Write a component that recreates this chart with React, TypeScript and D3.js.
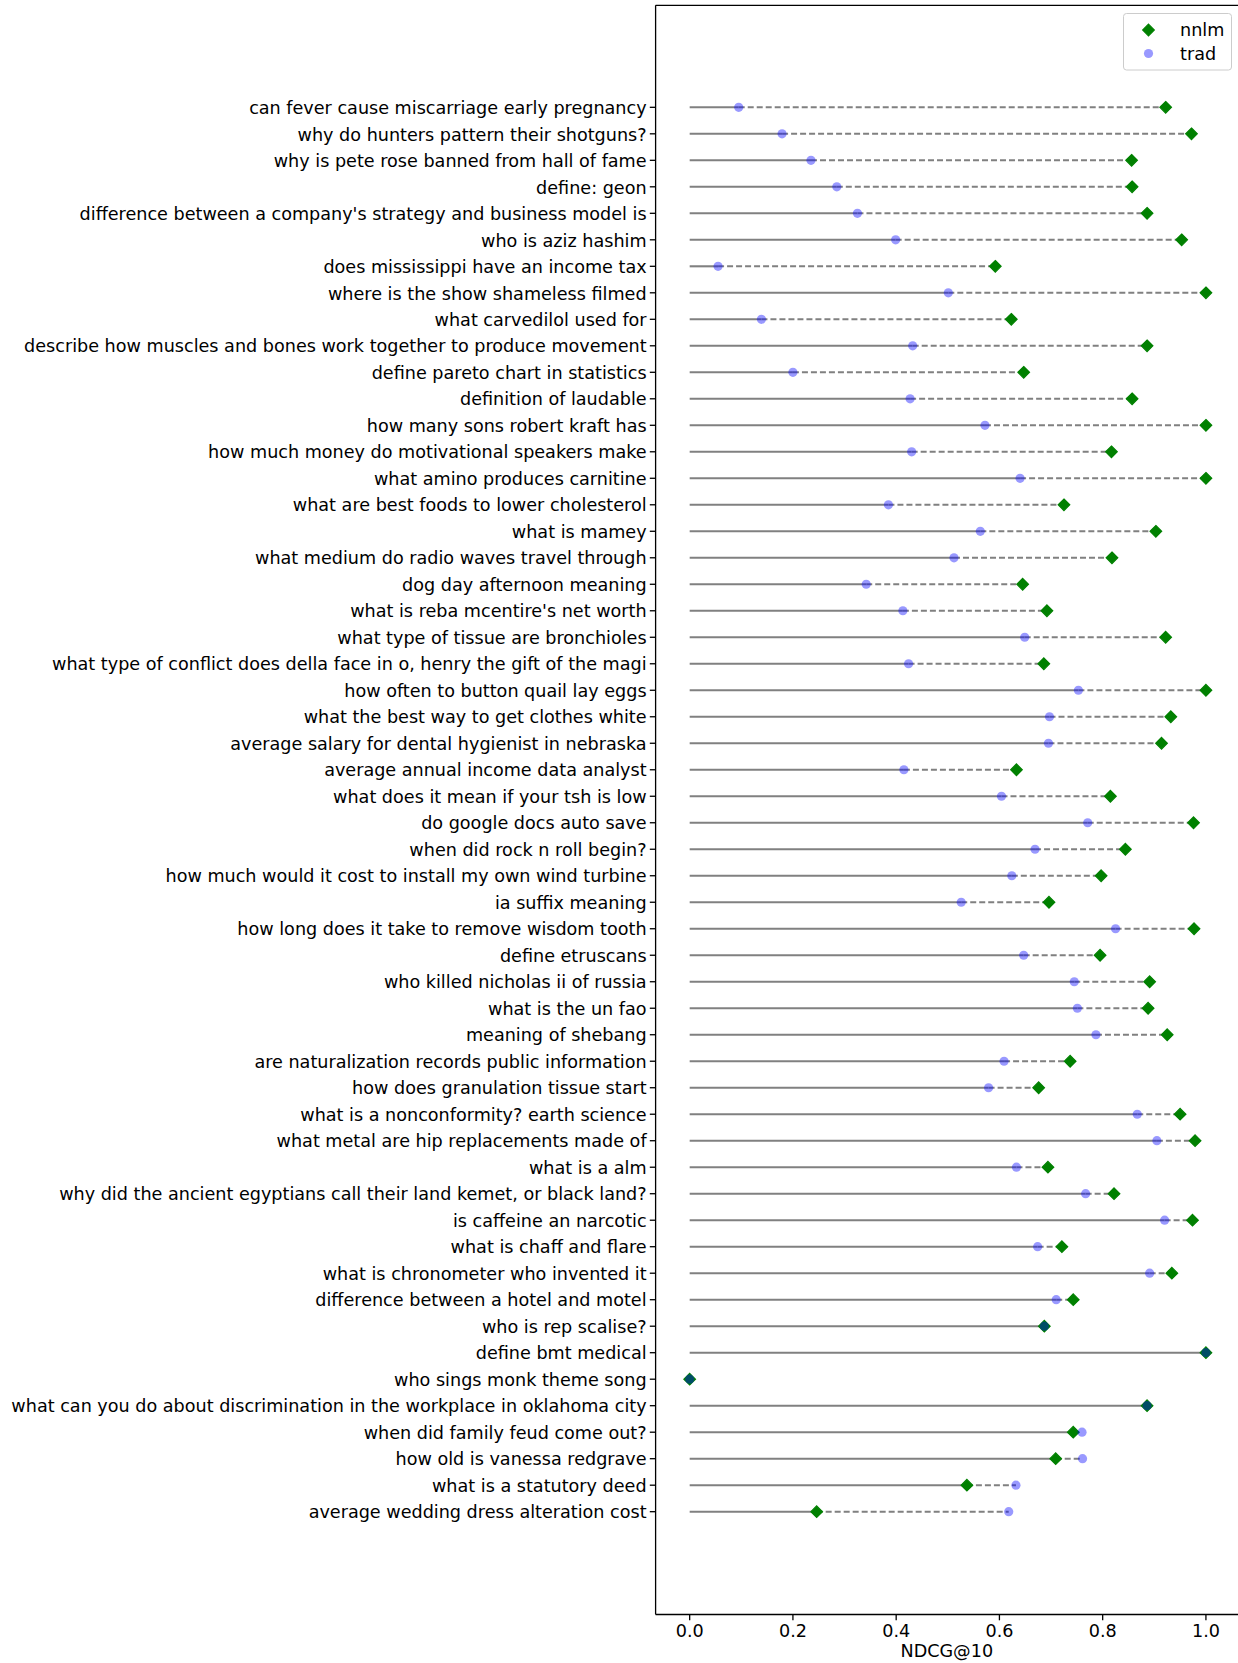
import React from "react";
import * as d3 from "d3";

const queries = [
  "can fever cause miscarriage early pregnancy",
  "why do hunters pattern their shotguns?",
  "why is pete rose banned from hall of fame",
  "define: geon",
  "difference between a company's strategy and business model is",
  "who is aziz hashim",
  "does mississippi have an income tax",
  "where is the show shameless filmed",
  "what carvedilol used for",
  "describe how muscles and bones work together to produce movement",
  "define pareto chart in statistics",
  "definition of laudable",
  "how many sons robert kraft has",
  "how much money do motivational speakers make",
  "what amino produces carnitine",
  "what are best foods to lower cholesterol",
  "what is mamey",
  "what medium do radio waves travel through",
  "dog day afternoon meaning",
  "what is reba mcentire's net worth",
  "what type of tissue are bronchioles",
  "what type of conflict does della face in o, henry the gift of the magi",
  "how often to button quail lay eggs",
  "what the best way to get clothes white",
  "average salary for dental hygienist in nebraska",
  "average annual income data analyst",
  "what does it mean if your tsh is low",
  "do google docs auto save",
  "when did rock n roll begin?",
  "how much would it cost to install my own wind turbine",
  "ia suffix meaning",
  "how long does it take to remove wisdom tooth",
  "define etruscans",
  "who killed nicholas ii of russia",
  "what is the un fao",
  "meaning of shebang",
  "are naturalization records public information",
  "how does granulation tissue start",
  "what is a nonconformity? earth science",
  "what metal are hip replacements made of",
  "what is a alm",
  "why did the ancient egyptians call their land kemet, or black land?",
  "is caffeine an narcotic",
  "what is chaff and flare",
  "what is chronometer who invented it",
  "difference between a hotel and motel",
  "who is rep scalise?",
  "define bmt medical",
  "who sings monk theme song",
  "what can you do about discrimination in the workplace in oklahoma city",
  "when did family feud come out?",
  "how old is vanessa redgrave",
  "what is a statutory deed",
  "average wedding dress alteration cost",
];

const nnlm = [
  0.922, 0.972, 0.856, 0.857, 0.886, 0.953, 0.592, 1.0, 0.623, 0.886,
  0.647, 0.857, 1.0, 0.817, 1.0, 0.725, 0.903, 0.818, 0.645, 0.692,
  0.922, 0.686, 1.0, 0.932, 0.914, 0.633, 0.815, 0.976, 0.844, 0.797,
  0.696, 0.977, 0.795, 0.891, 0.888, 0.925, 0.737, 0.676, 0.95, 0.979,
  0.694, 0.822, 0.974, 0.721, 0.934, 0.743, 0.687, 1.0, 0.0, 0.886,
  0.743, 0.709, 0.537, 0.246,
];

const trad = [
  0.095, 0.179, 0.235, 0.285, 0.325, 0.399, 0.055, 0.501, 0.139, 0.432,
  0.2, 0.427, 0.572, 0.43, 0.64, 0.385, 0.563, 0.512, 0.342, 0.413,
  0.649, 0.424, 0.753, 0.697, 0.695, 0.415, 0.604, 0.771, 0.669, 0.624,
  0.526, 0.825, 0.647, 0.745, 0.751, 0.787, 0.609, 0.579, 0.867, 0.905,
  0.633, 0.767, 0.92, 0.674, 0.891, 0.71, 0.687, 1.0, 0.0, 0.886,
  0.76, 0.761, 0.632, 0.618,
];

const xTicks = [0, 0.2, 0.4, 0.6, 0.8, 1.0];

const W = 1238;
const H = 1663;
const font = "DejaVu Sans, sans-serif";
const fs = 17.6;
const green = "#008000";
const blueAlpha = "rgba(0,0,255,0.4)";
const lineGray = "#808080";

function Diamond({ cx, cy, r }: { cx: number; cy: number; r: number }) {
  const p = `M${cx},${cy - r}L${cx + r},${cy}L${cx},${cy + r}L${cx - r},${cy}Z`;
  return <path d={p} fill={green} stroke={green} strokeWidth={1.2} />;
}

export default function App() {
  const x = d3.scaleLinear().domain([-0.066, 1.066]).range([655.6, 1240]);
  const y = d3.scaleLinear().domain([-3.85, 56.88]).range([5.3, 1614.5]);
  const left = x.range()[0];
  const top = y.range()[0];
  const bottom = y.range()[1];

  return (
    <svg
      width={W}
      height={H}
      style={{ position: "absolute", left: 0, top: 0, background: "#fff" }}
      fontFamily={font}
    >
      <rect x={0} y={0} width={W} height={H} fill="#fff" />
      {/* lollipop lines: solid up to the lower score, dashed to the higher */}
      {queries.map((q, i) => {
        const lo = Math.min(nnlm[i], trad[i]);
        const hi = Math.max(nnlm[i], trad[i]);
        const yy = y(i);
        return (
          <g key={"l" + i}>
            {lo > 0 && (
              <line x1={x(0)} x2={x(lo)} y1={yy} y2={yy} stroke={lineGray} strokeWidth={2.1} />
            )}
            {hi > lo && (
              <line
                x1={x(lo)}
                x2={x(hi)}
                y1={yy}
                y2={yy}
                stroke={lineGray}
                strokeWidth={2.1}
                strokeDasharray="6,3"
              />
            )}
          </g>
        );
      })}
      {queries.map((q, i) => (
        <Diamond key={"n" + i} cx={x(nnlm[i])} cy={y(i)} r={5.8} />
      ))}
      {queries.map((q, i) => (
        <circle key={"t" + i} cx={x(trad[i])} cy={y(i)} r={4.6} fill={blueAlpha} />
      ))}

      {/* spines */}
      <line x1={left} x2={left} y1={top} y2={bottom} stroke="#000" strokeWidth={1.3} />
      <line x1={left} x2={W} y1={top} y2={top} stroke="#000" strokeWidth={1.3} />
      <line x1={left} x2={W} y1={bottom} y2={bottom} stroke="#000" strokeWidth={1.3} />

      {/* y ticks */}
      {queries.map((q, i) => (
        <g key={"y" + i} transform={`translate(0,${y(i)})`}>
          <line x1={left - 5.8} x2={left} y1={0} y2={0} stroke="#000" strokeWidth={1.3} />
          <text x={left - 9} y={0} dy="0.38em" textAnchor="end" fontSize={fs} fill="#000">
            {q}
          </text>
        </g>
      ))}

      {/* x ticks */}
      {xTicks.map((t) => (
        <g key={"x" + t} transform={`translate(${x(t)},${bottom})`}>
          <line y1={0} y2={5.8} stroke="#000" strokeWidth={1.3} />
          <text y={16} textAnchor="middle" fontSize={fs} fill="#000" dy="0.35em">
            {d3.format(".1f")(t)}
          </text>
        </g>
      ))}
      <text x={(left + W) / 2} y={1651} dy="0.35em" textAnchor="middle" fontSize={fs} fill="#000">
        NDCG@10
      </text>

      {/* legend */}
      <g>
        <rect
          x={1123.5}
          y={13.5}
          width={108}
          height={56.5}
          rx={3}
          fill="rgba(255,255,255,0.8)"
          stroke="#cccccc"
          strokeWidth={1}
        />
        <Diamond cx={1148.5} cy={30} r={5.8} />
        <text x={1180} y={30} dy="0.35em" fontSize={fs} fill="#000">
          nnlm
        </text>
        <circle cx={1148.5} cy={53.5} r={4.6} fill={blueAlpha} />
        <text x={1180} y={53.5} dy="0.35em" fontSize={fs} fill="#000">
          trad
        </text>
      </g>
    </svg>
  );
}
